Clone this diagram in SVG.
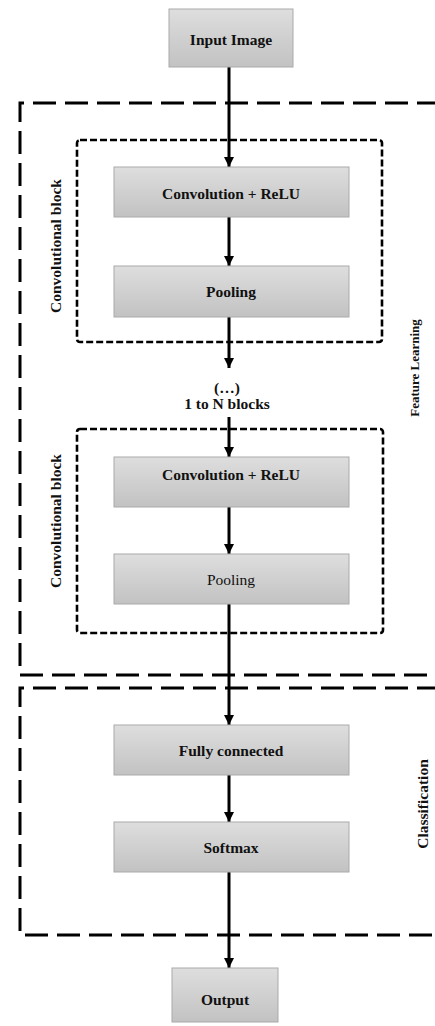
<svg xmlns="http://www.w3.org/2000/svg" width="435" height="1026" viewBox="0 0 435 1026">
<defs>
<linearGradient id="g" x1="0" y1="0" x2="0" y2="1">
<stop offset="0" stop-color="#dedede"/>
<stop offset="1" stop-color="#c2c2c2"/>
</linearGradient>
<marker id="ah" viewBox="0 0 10 10" refX="10" refY="5" markerWidth="10" markerHeight="10" markerUnits="userSpaceOnUse" orient="auto">
<path d="M0,0 L10,5 L0,10 Z" fill="#000"/>
</marker>
</defs>
<style>
.box{fill:url(#g);stroke:#aaaaaa;stroke-width:1}
.t{font-family:'Liberation Serif','Times New Roman',serif;font-size:15.5px;fill:#111;text-anchor:middle}
.b{font-weight:bold}
.outer{fill:none;stroke:#000;stroke-width:3;stroke-dasharray:23 9}
.inner{fill:none;stroke:#000;stroke-width:2.6;stroke-dasharray:7 3}
.c{stroke:#000;stroke-width:3;fill:none;marker-end:url(#ah)}
</style>
<g id="groups" font-family="Liberation Serif, Times New Roman, serif">
<path class="outer" d="M440,103 L20,103 L20,675 L440,675"/>
<path class="outer" d="M440,688 L20,688 L20,935 L440,935"/>
<rect class="inner" x="77" y="140" width="305" height="202" rx="3"/>
<rect class="inner" x="77" y="429" width="306" height="204" rx="3"/>
<text class="t b" transform="translate(55,246) rotate(-90)" dominant-baseline="central">Convolutional block</text>
<text class="t b" transform="translate(55,521) rotate(-90)" dominant-baseline="central">Convolutional block</text>
<text class="t b" transform="translate(414,368) rotate(-90)" dominant-baseline="central" style="font-size:13px">Feature Learning</text>
<text class="t b" transform="translate(422,804) rotate(-90)" dominant-baseline="central">Classification</text>
</g>
<g id="connectors">
<line class="c" x1="229" y1="67" x2="229" y2="167"/>
<line class="c" x1="229" y1="217" x2="229" y2="266"/>
<line class="c" x1="229" y1="317" x2="229" y2="368"/>
<line class="c" x1="229" y1="417" x2="229" y2="457"/>
<line class="c" x1="229" y1="507" x2="229" y2="554"/>
<line class="c" x1="229" y1="604" x2="229" y2="725"/>
<line class="c" x1="229" y1="775" x2="229" y2="822"/>
<line class="c" x1="229" y1="872" x2="229" y2="968"/>
</g>
<g id="input">
<rect class="box" x="169" y="9" width="124" height="58"/>
<text class="t b" x="231" y="45">Input Image</text>
</g>
<g id="conv1">
<rect class="box" x="114" y="167" width="235" height="50"/>
<text class="t b" x="231" y="199">Convolution + ReLU</text>
</g>
<g id="pool1">
<rect class="box" x="114" y="266" width="235" height="51"/>
<text class="t b" x="231" y="297">Pooling</text>
</g>
<g id="repeat">
<text class="t b" x="227" y="393">(…)</text>
<text class="t b" x="227" y="409">1 to N blocks</text>
</g>
<g id="conv2">
<rect class="box" x="114" y="457" width="235" height="50"/>
<text class="t b" x="231" y="480">Convolution + ReLU</text>
</g>
<g id="pool2">
<rect class="box" x="114" y="554" width="235" height="50"/>
<text class="t" x="231" y="585">Pooling</text>
</g>
<g id="fc">
<rect class="box" x="114" y="725" width="235" height="50"/>
<text class="t b" x="231" y="756">Fully connected</text>
</g>
<g id="softmax">
<rect class="box" x="114" y="822" width="235" height="50"/>
<text class="t b" x="231" y="853">Softmax</text>
</g>
<g id="output">
<rect class="box" x="172" y="968" width="106" height="54"/>
<text class="t b" x="225" y="1005">Output</text>
</g>
</svg>
